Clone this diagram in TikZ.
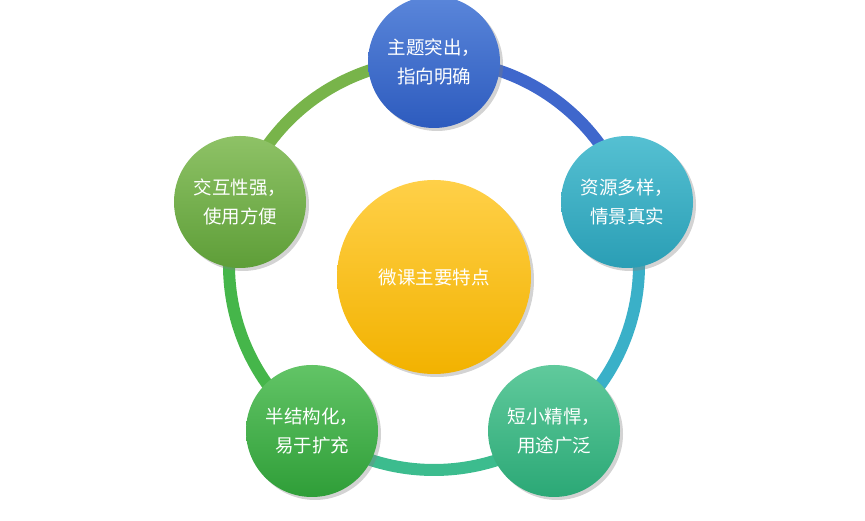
\documentclass[tikz,border=0pt]{standalone}
\usepackage{fontspec}
\setmainfont{Noto Sans CJK SC}
\usetikzlibrary{shadows,calc}
\definecolor{cA}{HTML}{3F67CC}\definecolor{cAt}{HTML}{5A86DA}\definecolor{cAb}{HTML}{2D5BBE}
\definecolor{cB}{HTML}{3AB0C8}\definecolor{cBt}{HTML}{55C0D2}\definecolor{cBb}{HTML}{2A9EB5}
\definecolor{cC}{HTML}{3CBC8E}\definecolor{cCt}{HTML}{60CA9C}\definecolor{cCb}{HTML}{2BA876}
\definecolor{cD}{HTML}{45B64A}\definecolor{cDt}{HTML}{62C466}\definecolor{cDb}{HTML}{2F9E38}
\definecolor{cE}{HTML}{78B44A}\definecolor{cEt}{HTML}{8EC266}\definecolor{cEb}{HTML}{5E9E38}
\definecolor{cYt}{HTML}{FFD048}\definecolor{cYb}{HTML}{F2B200}
\tikzset{
 bub/.style={circle,minimum size=132pt,inner sep=0pt,text=white,font=\fontsize{18.5pt}{29pt}\selectfont,align=center,
   drop shadow={shadow xshift=3pt,shadow yshift=-3pt,opacity=0.35}},
 seg/.style={line width=12pt}
}
\begin{document}
\begin{tikzpicture}[x=1pt,y=1pt]
\useasboundingbox (0,0) rectangle (865,521);
\coordinate (O) at (434,256);
\foreach \a/\b/\c in {90/18/cA,18/-54/cB,-54/-126/cC,-126/-198/cD,162/90/cE}{
  \draw[seg,\c] ($(O)+(\a:205)$) arc[start angle=\a,end angle=\b,radius=205];
}
\node[bub,top color=cAt,bottom color=cAb] (t) at (434,459) {主题突出，\\指向明确};
\node[bub,top color=cBt,bottom color=cBb] (r) at (627,319) {资源多样，\\情景真实};
\node[bub,top color=cCt,bottom color=cCb] (br) at (554,90) {短小精悍，\\用途广泛};
\node[bub,top color=cDt,bottom color=cDb] (bl) at (312,90) {半结构化，\\易于扩充};
\node[bub,top color=cEt,bottom color=cEb] (l) at (240,319) {交互性强，\\使用方便};
\node[bub,minimum size=194pt,top color=cYt,bottom color=cYb] (c) at (434,244) {微课主要特点};
\end{tikzpicture}
\end{document}
